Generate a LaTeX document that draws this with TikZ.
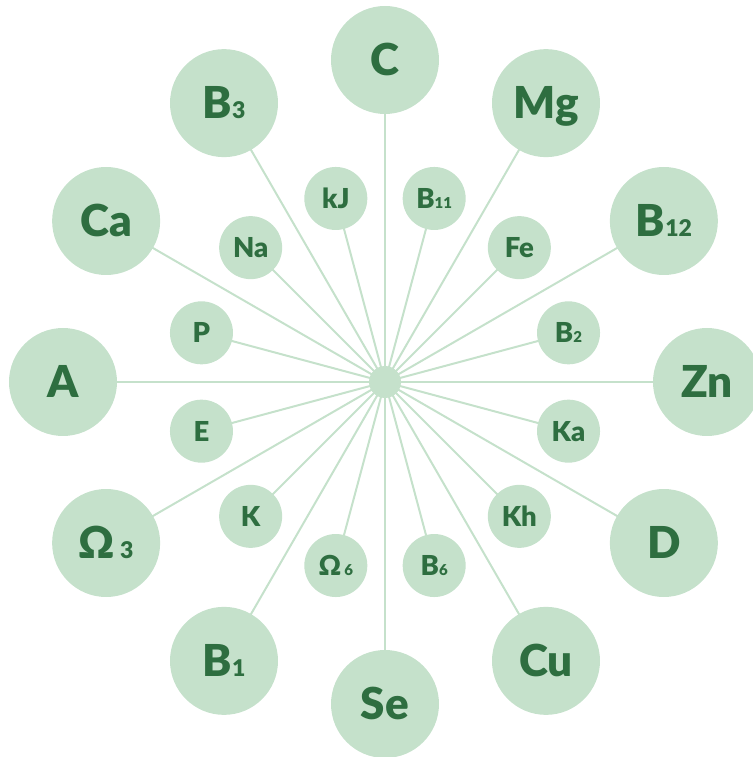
\documentclass[tikz,border=0pt]{standalone}
\usepackage{fontspec}
\setmainfont{Lato}[BoldFont={Lato Black}]
\definecolor{circfill}{HTML}{C5E1CB}
\definecolor{linecol}{HTML}{C5E1CB}
\definecolor{txtcol}{HTML}{2E6E40}
\newcommand{\bigsub}[1]{{\fontsize{23}{23}\selectfont #1}}
\newcommand{\smlsub}[1]{{\fontsize{15}{15}\selectfont #1}}
\begin{document}
\begin{tikzpicture}[x=1pt,y=1pt,
  outerc/.style={circle,fill=circfill,minimum size=108pt,inner sep=0pt},
  innerc/.style={circle,fill=circfill,minimum size=63pt,inner sep=0pt},
  hubc/.style={circle,fill=circfill,minimum size=32pt,inner sep=0pt},
  biglbl/.style={text=txtcol,font=\fontsize{44}{44}\selectfont\bfseries,text height=31.5pt,text depth=0pt,inner sep=0pt},
  smllbl/.style={text=txtcol,font=\fontsize{27.5}{27.5}\selectfont\bfseries,text height=19.7pt,text depth=0pt,inner sep=0pt},
  spoke/.style={draw=linecol,line width=2pt}]
\useasboundingbox (-385,-375) rectangle (367,382);
\coordinate (hub) at (0,0);
% outer circles
\foreach \ang/\nm/\txt in {90/oC/C, 60/oMg/Mg, 30/oB12/B\bigsub{12}, 0/oZn/Zn, -30/oD/D, -60/oCu/Cu, -90/oSe/Se, -120/oB1/B\bigsub{1}, -150/oOm3/{\char"03A9\kern5pt\bigsub{3}}, 180/oA/A, 150/oCa/Ca, 120/oB3/B\bigsub{3}}{
  \draw[spoke] (hub) -- (\ang:322);
  \node[outerc] (\nm) at (\ang:322) {};
  \node[biglbl] (\nm-t) at (\nm) {\txt};
}
% inner circles
\foreach \ang/\nm/\txt in {75/iB11/B\smlsub{11}, 105/ikJ/kJ, 135/iNa/Na, 165/iP/P, 195/iE/E, 225/iK/K, 255/iOm6/{\char"03A9\kern3pt\smlsub{6}}, 285/iB6/B\smlsub{6}, 315/iKh/Kh, 345/iKa/Ka, 15/iB2/B\smlsub{2}, 45/iFe/Fe}{
  \draw[spoke] (hub) -- (\ang:190);
  \node[innerc] (\nm) at (\ang:190) {};
  \node[smllbl] (\nm-t) at (\nm) {\txt};
}
\node[hubc] (hubn) at (hub) {};
\end{tikzpicture}
\end{document}
